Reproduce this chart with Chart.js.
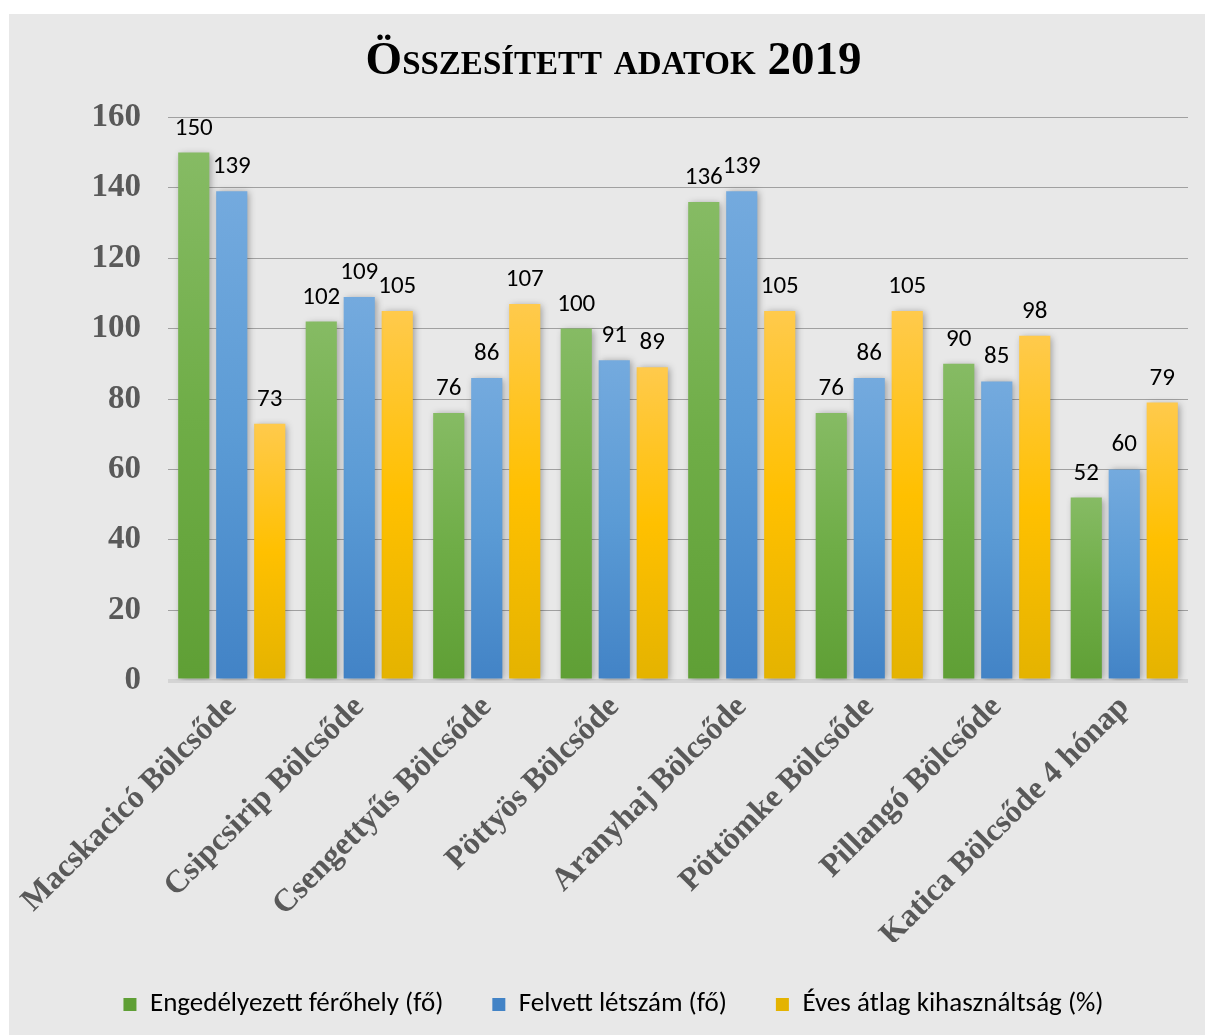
<!DOCTYPE html>
<html>
<head>
<meta charset="utf-8">
<script src="https://cdn.jsdelivr.net/npm/chart.js@4"></script>
<style>
  body { margin: 0; background: #ffffff; }
  #holder { position: absolute; left: 9px; top: 14px; }
  canvas { background: #e8e8e8; }
</style>
</head>
<body>
<div id="holder"><canvas id="chart" width="1196" height="1021"></canvas></div>
<script>
const CHART_TITLE = 'Összesített adatok 2019'

const categories = [
    'Macskacicó Bölcsőde',
    'Csipcsirip Bölcsőde',
    'Csengettyűs Bölcsőde',
    'Pöttyös Bölcsőde',
    'Aranyhaj Bölcsőde',
    'Pöttömke Bölcsőde',
    'Pillangó Bölcsőde',
    'Katica Bölcsőde 4 hónap'
]

const seriesNames = ['Engedélyezett férőhely (fő)', 'Felvett létszám (fő)', 'Éves átlag kihasználtság (%)']

const ferohely = [150, 102, 76, 100, 136, 76, 90, 52]
const letszam = [139, 109, 86, 91, 139, 86, 85, 60]
const kihasznaltsag = [73, 105, 107, 89, 105, 105, 98, 79]

const Y_MIN = 0
const Y_MAX = 160
const Y_STEP = 20

// [top, middle, bottom] of each bar gradient
const greenStops = ['#86bb64', '#6fad47', '#5f9f35']
const blueStops = ['#74aade', '#5b9bd5', '#4283c6']
const yellowStops = ['#ffca4c', '#ffc000', '#e4b300']

const SERIF = '"Liberation Serif", "Times New Roman", serif'
const SANS = 'Carlito, Calibri, Lato, sans-serif'

function barGradient(stops){
    return function(context){
        const chart = context.chart
        if(!chart.chartArea || context.raw === undefined){
            return stops[1]
        }
        const yScale = chart.scales.y
        const top = yScale.getPixelForValue(context.raw)
        const bottom = yScale.getPixelForValue(0)
        const g = chart.ctx.createLinearGradient(0, top, 0, bottom)
        g.addColorStop(0, stops[0])
        g.addColorStop(0.5, stops[1])
        g.addColorStop(1, stops[2])
        return g
    }
}

// soft shadow round the bars, like the office chart style
const barShadow = {
    id: 'barShadow',
    beforeDatasetsDraw(chart){
        const ctx = chart.ctx
        ctx.save()
        ctx.shadowColor = 'rgba(0, 0, 0, 0.35)'
        ctx.shadowBlur = 7
        ctx.shadowOffsetX = 2
        ctx.shadowOffsetY = 1
    },
    afterDatasetsDraw(chart){
        chart.ctx.restore()
    }
}

// value labels above each bar
const valueLabels = {
    id: 'valueLabels',
    afterDatasetsDraw(chart){
        const ctx = chart.ctx
        ctx.save()
        ctx.font = '25px ' + SANS
        ctx.fillStyle = '#000000'
        ctx.textAlign = 'center'
        ctx.textBaseline = 'alphabetic'
        chart.data.datasets.forEach(function(ds, i){
            const meta = chart.getDatasetMeta(i)
            meta.data.forEach(function(bar, j){
                ctx.fillText(String(ds.data[j]), bar.x, bar.y - 18)
            })
        })
        ctx.restore()
    }
}

const ctx = document.getElementById('chart').getContext('2d')

new Chart(ctx, {
    type: 'bar',
    data: {
        labels: categories,
        datasets: [{
            label: seriesNames[0],
            data: ferohely,
            backgroundColor: barGradient(greenStops)
        }, {
            label: seriesNames[1],
            data: letszam,
            backgroundColor: barGradient(blueStops)
        }, {
            label: seriesNames[2],
            data: kihasznaltsag,
            backgroundColor: barGradient(yellowStops)
        }]
    },
    options: {
        responsive: false,
        animation: false,
        categoryPercentage: 0.894,
        barPercentage: 0.82,
        layout: {
            padding: { left: 30, right: 17, top: 0, bottom: 7 }
        },
        scales: {
            x: {
                grid: { display: false },
                border: { display: false },
                ticks: {
                    color: '#595959',
                    font: { family: SERIF, size: 32, weight: 'bold' },
                    minRotation: 45,
                    maxRotation: 45,
                    autoSkip: false,
                    padding: 0
                },
                afterFit: function(scale){
                    // the long rotated first label must not push the plot right
                    scale.paddingLeft = 0
                    // labels may run into the legend gap a little, as in the original
                    scale.height = scale.height - 12
                }
            },
            y: {
                min: Y_MIN,
                max: Y_MAX,
                border: { display: false },
                grid: {
                    drawTicks: false,
                    color: function(c){ return c.tick && c.tick.value === 0 ? '#d4d4d4' : '#a0a0a0' },
                    lineWidth: function(c){ return c.tick && c.tick.value === 0 ? 4 : 1 }
                },
                ticks: {
                    stepSize: Y_STEP,
                    color: '#595959',
                    font: { family: SERIF, size: 33, weight: 'bold' },
                    padding: 27
                },
                afterFit: function(scale){
                    scale.width = 129
                }
            }
        },
        plugins: {
            title: {
                display: true,
                text: CHART_TITLE,
                color: '#000000',
                font: { family: SERIF, size: 47, weight: 'small-caps bold', lineHeight: 1.2 },
                padding: { top: 20, bottom: 27 }
            },
            legend: {
                position: 'bottom',
                labels: {
                    boxWidth: 13,
                    boxHeight: 13,
                    padding: 49,
                    color: '#000000',
                    font: { family: SANS, size: 27 }
                }
            },
            tooltip: { enabled: false }
        }
    },
    plugins: [barShadow, valueLabels]
})
</script>
</body>
</html>
